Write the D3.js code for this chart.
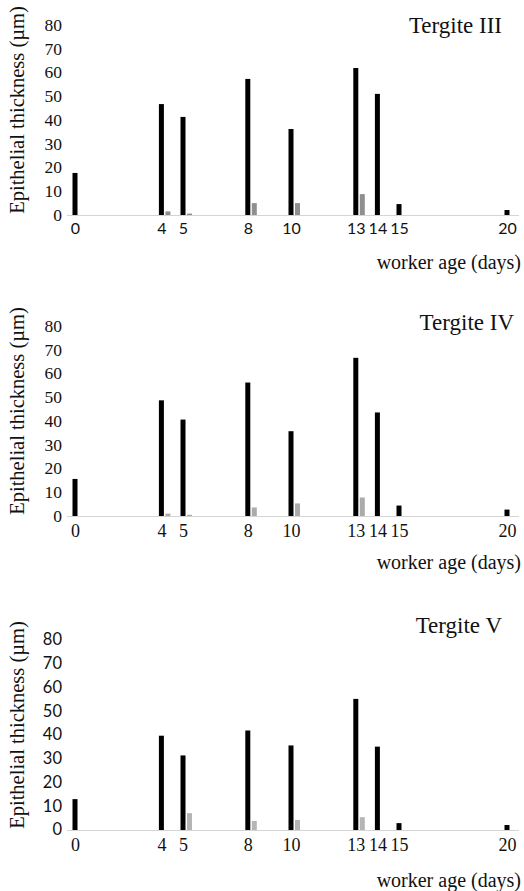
<!DOCTYPE html>
<html>
<head>
<meta charset="utf-8">
<script src="https://cdn.jsdelivr.net/npm/d3@7"></script>
<style>
  body { margin: 0; background: #fff; }
  svg { display: block; }
</style>
</head>
<body>
<div id="chart"></div>
<script>
// worker age (days) - same for all three panels
const days = [0, 4, 5, 8, 10, 13, 14, 15, 20];
const yTicks = [0, 10, 20, 30, 40, 50, 60, 70, 80];
const panelTitles = ["Tergite III", "Tergite IV", "Tergite V"];

// black series, one value per day
const tergite3Black = [17.7, 46.7, 41.3, 57.3, 36.2, 61.9, 51, 4.6, 2.1];
const tergite4Black = [15.6, 48.7, 40.6, 56.2, 35.7, 66.6, 43.6, 4.4, 2.7];
const tergite5Black = [13, 39.7, 31.4, 41.9, 35.6, 55.2, 35.1, 2.9, 2.1];

// grey series
const tergite3Grey = [0, 1.5, 0.6, 5, 5, 8.8, 0, 0, 0];
const tergite4Grey = [0, 1, 0.5, 3.6, 5.3, 7.8, 0, 0, 0];
const tergite5Grey = [0, 0, 7.1, 3.8, 4.2, 5.4, 0, 0, 0];

const W = 524, H = 891;
const serif = "'Liberation Serif', 'DejaVu Serif', serif";
const sans = "Lato, 'Open Sans', sans-serif";

// layout of each panel (top of the plot area, fonts, label positions)
const layout = [
  { top: 25, yFont: serif, yFontSize: 17.5, xFont: sans, xFontSize: 16, grey: "#8f8f8f",
    titleX: 502, titleY: 25, xLabelY: 262 },
  { top: 326, yFont: serif, yFontSize: 17.5, xFont: serif, xFontSize: 18, grey: "#ababab",
    titleX: 514, titleY: 322, xLabelY: 562 },
  { top: 640, yFont: sans, yFontSize: 16.5, xFont: serif, xFontSize: 18, grey: "#b5b5b5",
    titleX: 502, titleY: 625, xLabelY: 880 }
];

const black = [tergite3Black, tergite4Black, tergite5Black];
const grey = [tergite3Grey, tergite4Grey, tergite5Grey];

const plotH = 190;
const x = d3.scaleLinear().domain([0, 20]).range([75, 507]);
const y = d3.scaleLinear().domain([0, 80]).range([plotH, 0]);
const barW = 5;

const svg = d3.select("#chart").append("svg")
  .attr("width", W)
  .attr("height", H);

layout.forEach((L, i) => {
  const g = svg.append("g").attr("transform", `translate(0,${L.top})`);

  // y tick labels (no axis line)
  const yAxis = g.append("g")
    .attr("transform", "translate(62,0)")
    .call(d3.axisLeft(y).tickValues(yTicks).tickSize(0).tickPadding(0));
  yAxis.select(".domain").remove();
  yAxis.selectAll("text")
    .style("font-family", L.yFont)
    .style("font-size", L.yFontSize + "px")
    .attr("fill", "#111")
    .attr("dy", "0.3em");

  // x baseline
  g.append("line")
    .attr("x1", 67).attr("x2", 519)
    .attr("y1", y(0) + 0.5).attr("y2", y(0) + 0.5)
    .attr("stroke", "#d4d4d4")
    .attr("stroke-width", 1);

  // x tick labels at each sampled day
  const xAxis = g.append("g")
    .attr("transform", `translate(0,${y(0)})`)
    .call(d3.axisBottom(x).tickValues(days).tickFormat(d3.format("d")).tickSize(0).tickPadding(8));
  xAxis.select(".domain").remove();
  xAxis.selectAll("text")
    .style("font-family", L.xFont)
    .style("font-size", L.xFontSize + "px")
    .attr("fill", "#111");

  // black bars
  g.append("g").selectAll("rect")
    .data(days.map((d, j) => ({ day: d, v: black[i][j] })))
    .join("rect")
    .attr("x", d => x(d.day) - barW / 2)
    .attr("width", barW)
    .attr("y", d => y(d.v))
    .attr("height", d => y(0) - y(d.v))
    .attr("fill", "#000");

  // grey bars, just right of the black ones
  g.append("g").selectAll("rect")
    .data(days.map((d, j) => ({ day: d, v: grey[i][j] })).filter(d => d.v > 0))
    .join("rect")
    .attr("x", d => x(d.day) + barW / 2 + 1.5)
    .attr("width", barW)
    .attr("y", d => y(d.v))
    .attr("height", d => y(0) - y(d.v))
    .attr("fill", L.grey);

  // y axis title
  g.append("text")
    .attr("transform", `translate(24,${plotH / 2 - 10}) rotate(-90)`)
    .attr("text-anchor", "middle")
    .style("font-family", serif)
    .style("font-size", "20.5px")
    .attr("fill", "#111")
    .text("Epithelial thickness (µm)");

  // panel title
  svg.append("text")
    .attr("x", L.titleX)
    .attr("y", L.titleY)
    .attr("dy", "0.35em")
    .attr("text-anchor", "end")
    .style("font-family", serif)
    .style("font-size", "23px")
    .attr("fill", "#111")
    .text(panelTitles[i]);

  // x axis title
  svg.append("text")
    .attr("x", 521)
    .attr("y", L.xLabelY)
    .attr("dy", "0.35em")
    .attr("text-anchor", "end")
    .style("font-family", serif)
    .style("font-size", "20px")
    .attr("fill", "#111")
    .text("worker age (days)");
});
</script>
</body>
</html>
